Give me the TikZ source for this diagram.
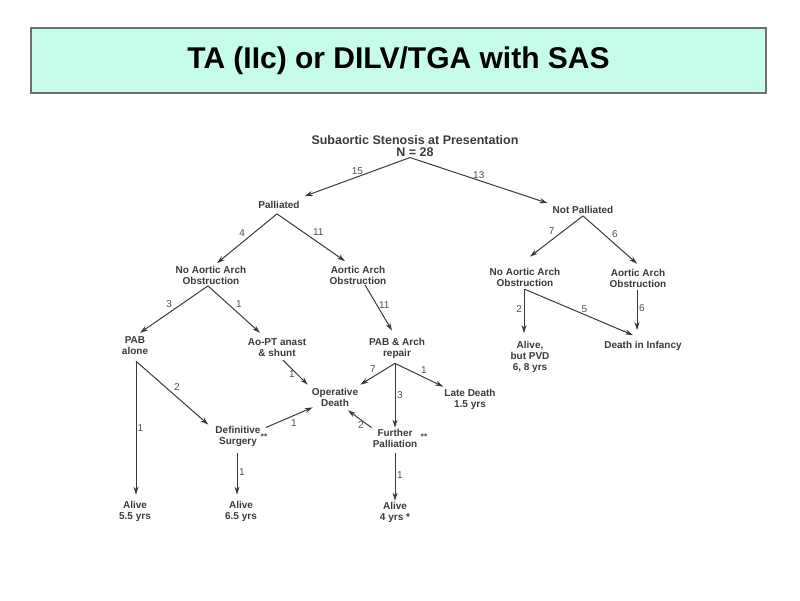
\documentclass[tikz,border=0pt]{standalone}
\usepackage{fontspec}
\setmainfont{Liberation Sans}
\usetikzlibrary{arrows.meta}
\definecolor{titlefill}{HTML}{C6FCE9}
\definecolor{titledraw}{HTML}{707070}
\definecolor{ink}{HTML}{3A3A3A}
\definecolor{numink}{HTML}{505050}
\tikzset{
  lbl/.style={text=ink, font=\bfseries\fontsize{10}{11}\selectfont, align=center, inner sep=1pt},
  rootlbl/.style={text=ink, font=\bfseries\fontsize{12.5}{11.5}\selectfont, align=center, inner sep=1pt},
  num/.style={text=numink, font=\fontsize{10}{11}\selectfont, inner sep=1.5pt},
  arr/.style={draw=ink, line width=1pt, -{Stealth[length=8pt,width=5pt]}},
  titlebox/.style={draw=titledraw, fill=titlefill, line width=1.2pt, minimum width=735pt, minimum height=65pt, inner sep=0pt,
    font=\bfseries\fontsize{30}{32}\selectfont}
}
\begin{document}
\begin{tikzpicture}[x=1pt,y=-1pt]
\useasboundingbox (0,0) rectangle (800,600);
\node[titlebox] (title) at (398.5,60.5) {TA (IIc) or DILV/TGA with SAS};

\node[rootlbl] (root) at (415,146) {Subaortic Stenosis at Presentation\\N = 28};
\node[lbl] (pall) at (279,205) {Palliated};
\node[lbl] (npall) at (583,210) {Not Palliated};
\node[lbl] (lnoarch) at (211,275.5) {No Aortic Arch\\Obstruction};
\node[lbl] (larch) at (358,275.5) {Aortic Arch\\Obstruction};
\node[lbl] (rnoarch) at (525,277) {No Aortic Arch\\Obstruction};
\node[lbl] (rarch) at (638,278) {Aortic Arch\\Obstruction};
\node[lbl] (pab) at (135,346) {PAB\\alone};
\node[lbl] (aopt) at (277,348) {Ao-PT anast\\\& shunt};
\node[lbl] (pabarch) at (397,348) {PAB \& Arch\\repair};
\node[lbl] (alivepvd) at (530,357) {Alive,\\but PVD\\6, 8 yrs};
\node[lbl] (dinf) at (643,346) {Death in Infancy};
\node[lbl] (opd) at (335,397) {Operative\\Death};
\node[lbl] (late) at (470,399) {Late Death\\1.5 yrs};
\node[lbl] (defs) at (238,436) {Definitive\\Surgery};
\node[lbl] (furth) at (395,438) {Further\\Palliation};
\node[lbl, font=\bfseries\fontsize{8}{8}\selectfont] (defstar) at (264,437) {**};
\node[lbl, font=\bfseries\fontsize{8}{8}\selectfont] (furthstar) at (424,437) {**};
\node[lbl] (a55) at (135,511) {Alive\\5.5 yrs};
\node[lbl] (a65) at (241,511) {Alive\\6.5 yrs};
\node[lbl] (a4) at (395,512) {Alive\\4 yrs *};

% level 1
\draw[arr] ([xshift=-5pt]root.south) -- node[num, above, pos=0.5] {15} ([xshift=4pt,yshift=4pt]pall.north east);
\draw[arr] ([xshift=-5pt]root.south) -- node[num, above, pos=0.5] {13} ([xshift=-4pt,yshift=2pt]npall.north west);
% palliated
\draw[arr] ([xshift=-2pt,yshift=-4pt]pall.south) -- node[num, above left, pos=0.5] {4} ([xshift=6pt,yshift=2pt]lnoarch.north);
\draw[arr] ([xshift=-2pt,yshift=-4pt]pall.south) -- node[num, above right, pos=0.5] {11} ([xshift=-13pt,yshift=4pt]larch.north);
% not palliated
\draw[arr] ([yshift=-1pt]npall.south) -- node[num, above left, pos=0.5] {7} ([xshift=5pt,yshift=10pt]rnoarch.north);
\draw[arr] ([yshift=-1pt]npall.south) -- node[num, above right, pos=0.5] {6} ([xshift=-1pt,yshift=4pt]rarch.north);
% left no arch
\draw[arr] ([xshift=-3pt]lnoarch.south) -- node[num, above left, pos=0.5] {3} ([xshift=5pt,yshift=3pt]pab.north);
\draw[arr] ([xshift=-3pt]lnoarch.south) -- node[num, above right, pos=0.5] {1} ([xshift=-17pt,yshift=5pt]aopt.north);
% left arch
\draw[arr] ([xshift=7pt,yshift=1pt]larch.south) -- node[num, right, pos=0.45] {11} ([xshift=-5pt,yshift=6pt]pabarch.north);
% right no arch
\draw[arr] ([xshift=-1pt,yshift=-2pt]rnoarch.south) -- node[num, left, pos=0.45] {2} ([xshift=-6pt,yshift=7pt]alivepvd.north);
\draw[arr] ([yshift=-2pt]rnoarch.south) -- node[num, above, pos=0.55] {5} ([xshift=-10pt,yshift=5pt]dinf.north);
% right arch
\draw[arr] ([xshift=-1pt,yshift=-2pt]rarch.south) -- node[num, right, pos=0.45] {6} ([xshift=-6pt,yshift=10pt]dinf.north);
% Ao-PT
\draw[arr] ([xshift=6pt,yshift=-2pt]aopt.south) -- node[num, left, pos=0.55] {1} ([xshift=-3pt,yshift=2pt]opd.north west);
% PAB alone
\draw[arr] ([xshift=1pt,yshift=-5pt]pab.south) -- node[num, right, pos=0.5, inner sep=1pt] {1} ([xshift=1pt,yshift=5pt]a55.north);
\draw[arr] ([xshift=1pt,yshift=-5pt]pab.south) -- node[num, above right, pos=0.5] {2} ([xshift=-6pt]defs.north west);
% Definitive surgery
\draw[arr] ([xshift=4pt,yshift=-3pt]defs.north east) -- node[num, below right, pos=0.5] {1} ([xshift=2pt]opd.south west);
\draw[arr] ([xshift=-1pt,yshift=-6pt]defs.south) -- node[num, right, pos=0.45] {1} ([xshift=-4pt,yshift=5pt]a65.north);
% PAB & Arch repair
\draw[arr] ([xshift=-2pt,yshift=-4pt]pabarch.south) -- node[num, above left, pos=0.5] {7} ([xshift=1pt,yshift=2pt]opd.north east);
\draw[arr] ([xshift=-2pt,yshift=-4pt]pabarch.south) -- node[num, right, pos=0.5] {3} (furth.north);
\draw[arr] ([xshift=-2pt,yshift=-4pt]pabarch.south) -- node[num, above right, pos=0.5] {1} ([yshift=1pt]late.north west);
% Further palliation
\draw[arr] (furth.north west) -- node[num, below, pos=0.45] {2} ([xshift=13pt,yshift=-3pt]opd.south);
\draw[arr] ([yshift=-5pt]furth.south) -- node[num, right, pos=0.45] {1} (a4.north);
\end{tikzpicture}
\end{document}
